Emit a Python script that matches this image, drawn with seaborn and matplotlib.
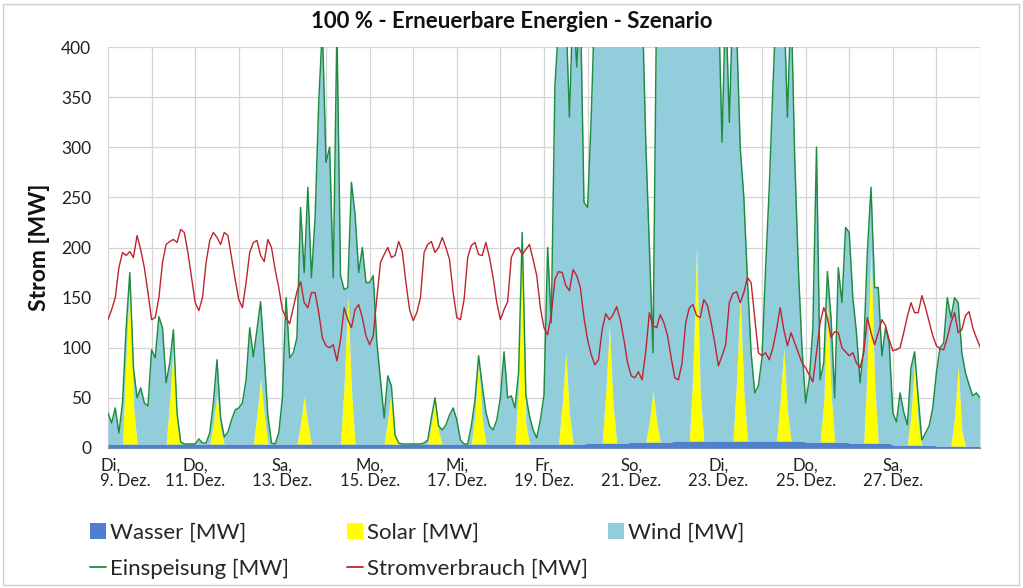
import numpy as np
import matplotlib
matplotlib.use("Agg")
import matplotlib.pyplot as plt
import matplotlib.transforms as mtransforms
from matplotlib.patches import Patch, Rectangle
from matplotlib.lines import Line2D
import seaborn as sns

# ---------------- data (2-hour steps, 9. Dez 0:00 -> 29. Dez 0:00) ----------------
tick_labels = ["Di,\n9. Dez.", "Do,\n11. Dez.", "Sa,\n13. Dez.", "Mo,\n15. Dez.",
               "Mi,\n17. Dez.", "Fr,\n19. Dez.", "So,\n21. Dez.", "Di,\n23. Dez.",
               "Do,\n25. Dez.", "Sa,\n27. Dez."]

# Wasser per day [MW]
wasser_daily = [4, 4, 4, 4, 4, 4, 4, 4, 4, 4, 4, 5, 6, 7, 7, 7, 6, 5, 3, 2]

# Solar per day at 10 h, 12 h, 14 h [MW]
solar_10h = [90, 45, 20, 30, 20, 60, 25, 20, 30, 60, 40, 50, 20, 70, 60, 40, 40, 80, 30, 30]
solar_12h = [165, 98, 50, 65, 48, 150, 55, 44, 82, 200, 91, 118, 52, 195, 145, 93, 145, 195, 85, 80]
solar_14h = [40, 20, 15, 30, 20, 55, 8, 12, 25, 20, 30, 40, 20, 50, 50, 30, 50, 60, 20, 15]

einspeisung = [
    35, 25, 40, 15, 45, 120, 175, 80, 50, 60, 45, 42,
    98, 90, 131, 120, 65, 85, 118, 35, 6, 4, 4, 4,
    4, 9, 5, 5, 15, 45, 88, 30, 11, 16, 28, 38,
    40, 45, 68, 120, 91, 118, 146, 92, 32, 5, 4, 15,
    50, 150, 90, 95, 110, 240, 175, 260, 170, 230, 345, 420,
    285, 300, 170, 420, 172, 158, 160, 265, 233, 175, 200, 165,
    165, 172, 105, 68, 30, 72, 62, 13, 5, 4, 4, 4,
    4, 4, 4, 5, 8, 30, 50, 22, 18, 23, 33, 40,
    28, 8, 4, 4, 22, 48, 92, 62, 36, 22, 18, 28,
    50, 96, 50, 52, 40, 75, 215, 53, 32, 18, 10, 28,
    53, 200, 125, 362, 420, 450, 440, 330, 450, 380, 450, 245,
    240, 330, 450, 450, 450, 450, 450, 450, 450, 450, 450, 450,
    450, 450, 450, 450, 306, 200, 95, 450, 450, 450, 450, 450,
    450, 450, 450, 450, 450, 450, 450, 450, 450, 450, 450, 450,
    450, 305, 450, 325, 450, 420, 300, 250, 168, 95, 55, 62,
    90, 180, 260, 360, 450, 450, 450, 330, 450, 290, 180, 100,
    45, 68, 120, 300, 68, 85, 176, 130, 50, 180, 145, 220,
    215, 150, 115, 65, 100, 196, 260, 160, 160, 92, 120, 105,
    35, 26, 55, 36, 23, 80, 96, 50, 8, 15, 22, 40,
    75, 100, 105, 150, 130, 150, 145, 95, 75, 63, 52, 55,
    50]

stromverbrauch = [
    128, 138, 150, 180, 195, 192, 196, 190, 212, 198, 180, 155,
    128, 130, 150, 185, 203, 206, 208, 205, 218, 215, 195, 170,
    145, 137, 150, 185, 207, 215, 210, 203, 215, 212, 190, 168,
    148, 140, 165, 195, 205, 207, 192, 186, 208, 200, 178, 160,
    138, 130, 124, 140, 156, 166, 145, 140, 155, 155, 135, 110,
    102, 100, 103, 87, 108, 140, 128, 120, 138, 143, 130, 112,
    103, 112, 150, 185, 193, 200, 190, 192, 206, 196, 165, 138,
    127, 135, 150, 195, 203, 206, 195, 200, 210, 200, 188, 155,
    130, 128, 148, 190, 202, 205, 193, 192, 205, 190, 170, 145,
    128, 138, 146, 190, 198, 200, 193, 198, 203, 188, 172, 140,
    120, 113, 133, 168, 176, 175, 162, 157, 178, 172, 160, 130,
    108, 93, 83, 88, 118, 134, 128, 133, 141, 128, 108, 85,
    72, 70, 76, 68, 96, 135, 122, 120, 133, 125, 112, 90,
    70, 68, 85, 125, 140, 143, 132, 130, 148, 142, 125, 105,
    82, 92, 103, 145, 154, 156, 145, 155, 170, 165, 130, 95,
    92, 95, 88, 100, 118, 140, 118, 102, 115, 105, 95, 85,
    80, 73, 66, 95, 125, 140, 130, 110, 116, 115, 100, 96,
    92, 95, 85, 80, 95, 130, 115, 103, 115, 128, 122, 108,
    97, 98, 100, 115, 131, 145, 135, 135, 152, 140, 126, 112,
    102, 99, 98, 110, 125, 135, 115, 118, 132, 136, 120, 110,
    101]

# ---------------- build series ----------------
steps = 12
n = len(einspeisung)
t = np.arange(n) / steps
wasser = np.append(np.repeat(wasser_daily, steps), wasser_daily[-1]).astype(float)
solar = np.zeros(n)
for d in range(len(solar_12h)):
    solar[steps * d + 5] = solar_10h[d]
    solar[steps * d + 6] = solar_12h[d]
    solar[steps * d + 7] = solar_14h[d]
E = np.array(einspeisung, dtype=float)
wind = np.clip(E - wasser - solar, 0, None)

# ---------------- style ----------------
sns.set_theme(style="white")
plt.rcParams["font.family"] = ["Lato", "DejaVu Sans"]

c_wasser = "#4E80CC"
c_solar = "#FFFF00"
c_wind = "#92CDDC"
c_green = "#1E8C3E"
c_red = "#BE2430"
c_grid = "#D4D4D4"

W, H = 1023, 588
fig = plt.figure(figsize=(W / 100, H / 100), dpi=100)
ax = fig.add_axes([108 / W, 1 - 448 / H, 872 / W, 401 / H])

ax.fill_between(t, 0, wasser, color=c_wasser, lw=0, zorder=1)
ax.fill_between(t, wasser, wasser + solar, color=c_solar, lw=0, zorder=1)
ax.fill_between(t, wasser + solar, wasser + solar + wind, color=c_wind, lw=0, zorder=1)
sns.lineplot(x=t, y=E, color=c_green, lw=1.05, ax=ax, estimator=None, zorder=3)
sns.lineplot(x=t, y=np.array(stromverbrauch, float), color=c_red, lw=1.0, ax=ax,
             estimator=None, zorder=4)

ax.set_xlim(0, 20)
ax.set_ylim(0, 400)
ax.set_yticks(np.arange(0, 401, 50))
ax.set_xticks(np.arange(0, 21, 1))
labels = []
k = 0
for d in range(21):
    if d % 2 == 0 and k < len(tick_labels):
        labels.append(tick_labels[k]); k += 1
    else:
        labels.append("")
ax.set_xticklabels(labels, fontsize=12, linespacing=0.92)
ax.tick_params(axis="x", length=5, color="#9A9A9A", width=0.8, pad=2, labelcolor="#222222")
ax.tick_params(axis="y", length=0, pad=12, labelsize=12.5, labelcolor="#222222")
first = ax.get_xticklabels()[0]
first.set_ha("left")
first.set_multialignment("left")
first.set_transform(first.get_transform() +
                    mtransforms.ScaledTranslation(-0.08, 0, fig.dpi_scale_trans))

ax.grid(True, color=c_grid, lw=0.9)
ax.set_axisbelow(True)
for s in ["left", "right", "top"]:
    ax.spines[s].set_visible(False)
ax.spines["bottom"].set_color("#9A9A9A")
ax.spines["bottom"].set_linewidth(0.8)
ax.spines["bottom"].set_zorder(0.8)
ax.set_xlabel("")
ax.set_ylabel("Strom [MW]", fontsize=16.5, fontweight="bold", color="#111111")
ax.yaxis.set_label_coords(-0.066, 0.5)

fig.text(0.5, 1 - 22 / H, "100 % - Erneuerbare Energien - Szenario",
         ha="center", va="center", fontsize=16, fontweight="bold", color="#111111")

# ---------------- legend (three columns) ----------------
h_wasser = Patch(facecolor=c_wasser, edgecolor="none", label="Wasser [MW]")
h_solar = Patch(facecolor=c_solar, edgecolor="none", label="Solar [MW]")
h_wind = Patch(facecolor=c_wind, edgecolor="none", label="Wind [MW]")
h_ein = Line2D([], [], color=c_green, lw=1.3, label="Einspeisung [MW]")
h_str = Line2D([], [], color=c_red, lw=1.3, label="Stromverbrauch [MW]")
common = dict(loc="upper left", frameon=False, fontsize=16, handlelength=0.7,
              handleheight=0.7, handletextpad=0.2, labelspacing=0.72,
              borderpad=0, borderaxespad=0)
for xpx, hs in [(90, [h_wasser, h_ein]), (347, [h_solar, h_str]), (608, [h_wind])]:
    fig.legend(handles=hs, bbox_to_anchor=(xpx / W, 1 - 523 / H), **common)

fig.add_artist(Rectangle((3 / W, 3 / H), 1 - 7 / W, 1 - 7 / H, transform=fig.transFigure,
                         fill=False, ec="#D0D0D0", lw=1))

fig.savefig("out.png", dpi=100)
